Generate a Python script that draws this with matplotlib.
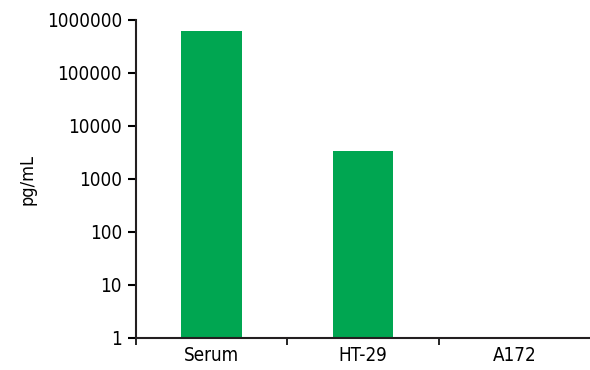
import matplotlib
matplotlib.use('Agg')
import matplotlib.pyplot as plt

# condensed face if one is installed
plt.rcParams['font.family'] = ['DejaVu Sans']
plt.rcParams['font.stretch'] = 'condensed'

categories = ['Serum', 'HT-29', 'A172']
values = [620000, 3400, 1]
yticks = [1, 10, 100, 1000, 10000, 100000, 1000000]

fig = plt.figure(figsize=(5.9, 3.7), dpi=100)
ax = fig.add_axes([0.2305, 0.0865, 0.7695, 0.8595])

x = range(len(categories))
ax.bar(x, [v - 1 for v in values], bottom=1, width=0.4, color='#00A651')

ax.set_yscale('log')
ax.set_ylim(1, 1000000)
ax.set_yticks(yticks)
ax.set_yticklabels([str(t) for t in yticks], fontsize=13.5)
ax.minorticks_off()
ax.tick_params(axis='y', length=6, width=1.5, direction='out', pad=4)

ax.set_xlim(-0.5, 2.5)
ax.set_xticks(list(x))
ax.set_xticklabels(categories, fontsize=13.5)
ax.tick_params(axis='x', length=0, pad=6)
# separators between categories
ax.set_xticks([-0.5, 0.5, 1.5], minor=True)
ax.tick_params(axis='x', which='minor', length=5, width=1.2, direction='out')

fig.text(0.046, 0.514, 'pg/mL', rotation=90, ha='center', va='center', fontsize=13)

for side in ['top', 'right']:
  ax.spines[side].set_visible(False)
for side in ['left', 'bottom']:
  ax.spines[side].set_linewidth(1.5)
  ax.spines[side].set_color('#231f20')

plt.savefig('out.png', dpi=100)
